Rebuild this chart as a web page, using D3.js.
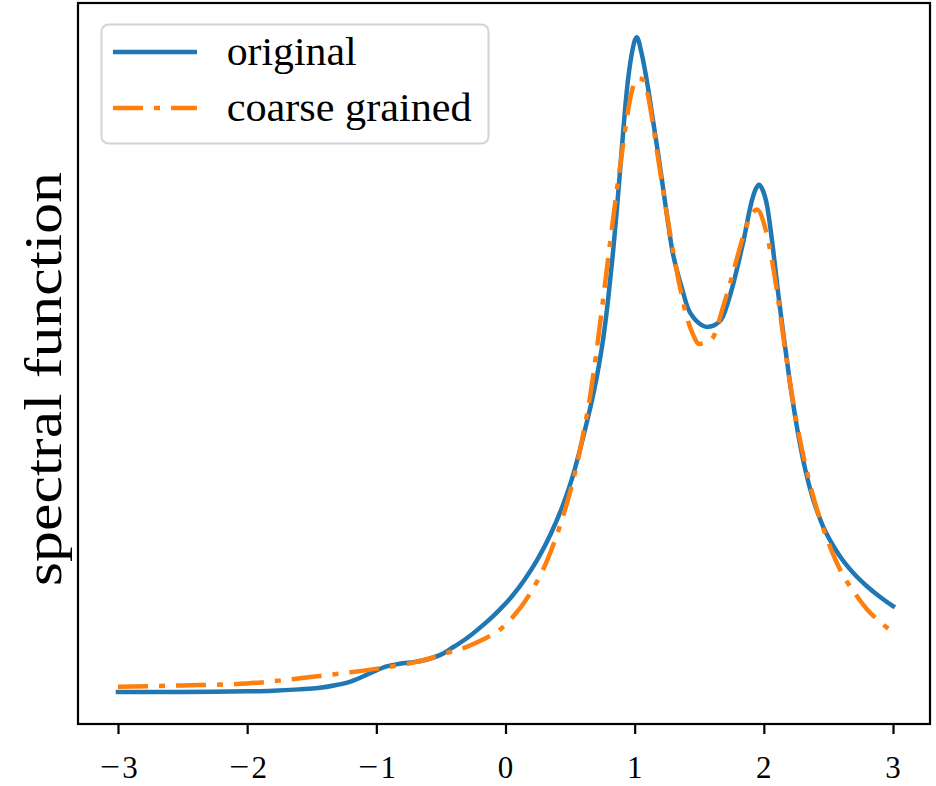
<!DOCTYPE html>
<html>
<head>
<meta charset="utf-8">
<script src="https://cdn.jsdelivr.net/npm/d3@7"></script>
<style>
  body { margin: 0; background: #fff; }
  text { font-family: "Liberation Serif", "DejaVu Serif", serif; fill: #000; }
</style>
</head>
<body>
<div id="chart"></div>
<script>
// Values (y is in arbitrary units, no y ticks)
var origX = [-3.0, -2.5, -2.0, -1.8, -1.6, -1.45, -1.30, -1.20, -1.10, -1.00, -0.92, -0.82, -0.70, -0.60, -0.50,
    -0.40, -0.30, -0.174, -0.10, -0.043, 0.05, 0.15, 0.25, 0.35, 0.45, 0.52, 0.577, 0.63, 0.677, 0.72,
    0.755, 0.794, 0.832, 0.863, 0.887, 0.910, 0.938, 0.977, 1.016, 1.054, 1.103, 1.142, 1.181, 1.219, 1.258,
    1.29, 1.33, 1.37, 1.413, 1.46, 1.51, 1.56, 1.61, 1.65, 1.684, 1.72, 1.761, 1.80, 1.839, 1.908,
    1.939, 1.963, 1.986, 2.025, 2.07, 2.11, 2.15, 2.20, 2.26, 2.32, 2.38, 2.42, 2.46, 2.50, 2.55,
    2.60, 2.70, 2.80, 2.90, 3.0];
var origY = [0.000, 0.000, 0.001, 0.002, 0.004, 0.006, 0.011, 0.016, 0.024, 0.033, 0.039, 0.043, 0.046, 0.050, 0.057,
    0.069, 0.082, 0.102, 0.115, 0.126, 0.146, 0.172, 0.203, 0.241, 0.288, 0.329, 0.370, 0.412, 0.452, 0.495,
    0.537, 0.598, 0.670, 0.738, 0.795, 0.852, 0.915, 0.973, 0.999, 0.974, 0.922, 0.872, 0.822, 0.770, 0.716,
    0.675, 0.641, 0.613, 0.585, 0.570, 0.561, 0.557, 0.559, 0.564, 0.573, 0.593, 0.621, 0.652, 0.685, 0.750,
    0.768, 0.774, 0.768, 0.742, 0.678, 0.610, 0.548, 0.475, 0.400, 0.340, 0.295, 0.272, 0.252, 0.236, 0.219,
    0.204, 0.180, 0.161, 0.145, 0.131];

var coarseX = [-3.0, -2.5, -2.0, -1.591, -1.204, -0.948, -0.685, -0.430, -0.30, -0.174, -0.05, 0.05, 0.19, 0.321, 0.445,
    0.50, 0.553, 0.60, 0.654, 0.70, 0.755, 0.80, 0.85, 0.90, 0.94, 0.98, 1.02, 1.06, 1.10, 1.14,
    1.18, 1.22, 1.26, 1.30, 1.35, 1.40, 1.45, 1.50, 1.55, 1.607, 1.684, 1.761, 1.831, 1.893, 1.947,
    2.009, 2.063, 2.11, 2.15, 2.20, 2.26, 2.32, 2.38, 2.45, 2.52, 2.60, 2.70, 2.80, 2.90, 3.0];
var coarseY = [0.008, 0.010, 0.013, 0.021, 0.030, 0.037, 0.046, 0.061, 0.069, 0.080, 0.094, 0.113, 0.150, 0.200, 0.268,
    0.305, 0.347, 0.392, 0.450, 0.513, 0.598, 0.670, 0.748, 0.820, 0.876, 0.918, 0.936, 0.935, 0.913, 0.868,
    0.816, 0.765, 0.716, 0.670, 0.618, 0.575, 0.546, 0.531, 0.533, 0.541, 0.587, 0.639, 0.689, 0.724, 0.736,
    0.709, 0.659, 0.600, 0.543, 0.475, 0.405, 0.348, 0.300, 0.255, 0.218, 0.183, 0.152, 0.126, 0.107, 0.091];

var xTicks = [-3, -2, -1, 0, 1, 2, 3];
var seriesNames = ["original", "coarse grained"];
var seriesColors = ["#1f77b4", "#ff7f0e"];

var width = 936, height = 786;
var frame = {left: 78, right: 930, top: 3, bottom: 724};

var svg = d3.select("#chart").append("svg")
    .attr("width", width)
    .attr("height", height);

var x = d3.scaleLinear().domain([-3, 3]).range([118, 893]);
var y = d3.scaleLinear().domain([0, 1]).range([692, 36.5]);

var series = [
    {name: seriesNames[0], color: seriesColors[0], dash: null,
     pts: origX.map(function (d, i) { return [d, origY[i]]; })},
    {name: seriesNames[1], color: seriesColors[1], dash: "30,11,6,11",
     pts: coarseX.map(function (d, i) { return [d, coarseY[i]]; })}
];

var line = d3.line()
    .x(function (d) { return x(d[0]); })
    .y(function (d) { return y(d[1]); })
    .curve(d3.curveMonotoneX);

svg.selectAll("path.series")
    .data(series)
    .enter().append("path")
    .attr("class", "series")
    .attr("d", function (d) { return line(d.pts); })
    .attr("fill", "none")
    .attr("stroke", function (d) { return d.color; })
    .attr("stroke-width", 4.5)
    .attr("stroke-dasharray", function (d) { return d.dash; })
    .attr("stroke-linecap", function (d) { return d.dash ? "butt" : "square"; })
    .attr("stroke-linejoin", "round");

// frame
svg.append("rect")
    .attr("x", frame.left)
    .attr("y", frame.top)
    .attr("width", frame.right - frame.left)
    .attr("height", frame.bottom - frame.top)
    .attr("fill", "none")
    .attr("stroke", "#000")
    .attr("stroke-width", 2.2);

// x axis: ticks from the axis, labels drawn per tick so the minus can be wide like TeX's
var xAxis = d3.axisBottom(x)
    .tickValues(xTicks)
    .tickSize(10)
    .tickFormat("");

var gx = svg.append("g")
    .attr("transform", "translate(0," + frame.bottom + ")")
    .call(xAxis);
gx.select(".domain").remove();
gx.selectAll(".tick line").attr("stroke", "#000").attr("stroke-width", 2.2);

var tickLabels = svg.append("g").selectAll("g")
    .data(xTicks)
    .enter().append("g")
    .attr("transform", function (d) { return "translate(" + x(d) + ",778)"; });

tickLabels.append("text")
    .attr("x", function (d) { return d < 0 ? 12 : 0; })
    .attr("text-anchor", "middle")
    .style("font-size", "31px")
    .text(function (d) { return Math.abs(d); });

tickLabels.filter(function (d) { return d < 0; })
    .append("text")
    .attr("x", -18)
    .attr("y", -1)
    .attr("textLength", 20)
    .attr("lengthAdjust", "spacingAndGlyphs")
    .style("font-size", "31px")
    .text("\u2212");

// y label
svg.append("text")
    .attr("transform", "translate(61,379) rotate(-90)")
    .attr("text-anchor", "middle")
    .attr("textLength", 414)
    .attr("lengthAdjust", "spacingAndGlyphs")
    .style("font-size", "52px")
    .text("spectral function");

// legend
var legend = svg.append("g");
legend.append("rect")
    .attr("x", 101.5)
    .attr("y", 24.5)
    .attr("width", 387)
    .attr("height", 119)
    .attr("rx", 7)
    .attr("fill", "#fff")
    .attr("fill-opacity", 0.8)
    .attr("stroke", "#d4d4d4")
    .attr("stroke-width", 2);

var legendRows = [52, 108];
var textLengths = [130, 245];
series.forEach(function (s, i) {
    legend.append("line")
        .attr("x1", 113).attr("x2", 197)
        .attr("y1", legendRows[i]).attr("y2", legendRows[i])
        .attr("stroke", s.color)
        .attr("stroke-width", 4.5)
        .attr("stroke-dasharray", s.dash);
    legend.append("text")
        .attr("x", 226.7)
        .attr("y", legendRows[i] + 13)
        .attr("textLength", textLengths[i])
        .attr("lengthAdjust", "spacingAndGlyphs")
        .style("font-size", "39px")
        .text(s.name);
});
</script>
</body>
</html>
